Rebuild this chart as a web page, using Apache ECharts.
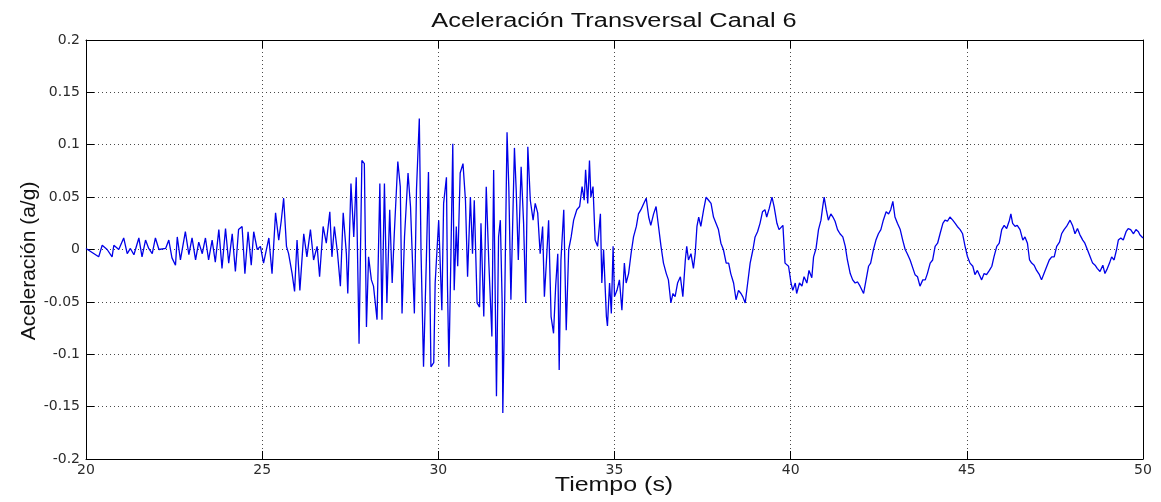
<!DOCTYPE html>
<html>
<head>
<meta charset="utf-8">
<script src="https://cdn.jsdelivr.net/npm/echarts@6/dist/echarts.min.js"></script>
<style>
  html, body { margin: 0; padding: 0; background: #ffffff; }
  #chart { width: 1161px; height: 502px; }
</style>
</head>
<body>
<div id="chart"></div>
<script>
// Transverse acceleration record, channel 6: [time (s), acceleration (a/g)]
// Low-level motion before the main arrival
const preEvent = [
  [20.00, 0.001], [20.03, 0.001], [20.36, -0.007], [20.46, 0.004], [20.60, 0.000], [20.74, -0.007],
  [20.79, 0.004], [20.93, 0.000], [21.07, 0.011], [21.17, -0.004], [21.26, 0.001], [21.36, -0.005],
  [21.50, 0.011], [21.59, -0.007], [21.69, 0.009], [21.78, 0.001], [21.88, -0.004], [21.97, 0.011],
  [22.07, 0.000], [22.26, 0.001], [22.35, 0.009], [22.44, -0.008], [22.54, -0.015], [22.59, 0.012],
  [22.68, -0.010], [22.82, 0.017], [22.92, -0.005], [23.01, 0.011], [23.11, -0.010], [23.20, 0.007],
  [23.30, -0.004], [23.39, 0.011], [23.48, -0.010], [23.58, 0.009], [23.67, -0.012], [23.77, 0.019],
  [23.86, -0.018], [23.96, 0.020], [24.05, -0.013], [24.15, 0.015], [24.24, -0.021], [24.33, 0.019],
  [24.43, 0.022], [24.51, -0.023], [24.60, 0.017], [24.69, -0.015], [24.76, 0.017], [24.86, 0.000]
];

// Strong shaking, 25 s to 30 s
const strongMotionA = [
  [24.95, 0.003], [25.04, -0.013], [25.19, 0.011], [25.28, -0.023], [25.38, 0.035], [25.47, 0.009],
  [25.54, 0.027], [25.61, 0.049], [25.69, 0.003], [25.75, -0.004], [25.85, -0.023], [25.92, -0.040],
  [25.99, 0.009], [26.07, -0.039], [26.18, 0.015], [26.27, -0.007], [26.37, 0.019], [26.46, -0.010],
  [26.56, 0.003], [26.63, -0.026], [26.73, 0.022], [26.82, 0.006], [26.92, 0.036], [26.98, -0.007],
  [27.05, 0.022], [27.14, -0.004], [27.22, -0.035], [27.30, 0.035], [27.39, -0.004], [27.43, -0.042],
  [27.52, 0.063], [27.60, 0.012], [27.67, 0.069], [27.75, -0.090], [27.83, 0.085], [27.90, 0.082],
  [27.96, -0.074], [28.02, -0.007], [28.10, -0.029], [28.16, -0.035], [28.26, -0.067], [28.34, 0.063],
  [28.40, -0.067], [28.47, 0.063], [28.54, -0.051], [28.62, 0.038], [28.69, -0.032], [28.75, 0.015],
  [28.85, 0.084], [28.92, 0.060], [28.97, -0.061], [29.04, 0.012], [29.14, 0.073], [29.21, 0.041],
  [29.32, -0.061], [29.38, 0.057], [29.46, 0.125], [29.51, -0.004], [29.58, -0.112], [29.66, -0.010],
  [29.72, 0.074], [29.79, -0.112], [29.87, -0.108], [29.91, -0.032], [30.01, 0.028]
];

// Strong shaking, 30 s to 34.5 s
const strongMotionB = [
  [30.10, -0.058], [30.15, 0.044], [30.23, 0.069], [30.26, -0.035], [30.30, -0.112], [30.36, 0.000],
  [30.41, 0.101], [30.45, -0.039], [30.51, 0.022], [30.55, -0.016], [30.62, 0.073], [30.70, 0.082],
  [30.77, 0.047], [30.83, -0.026], [30.91, 0.050], [30.97, -0.004], [31.02, 0.047], [31.10, -0.051],
  [31.17, -0.055], [31.21, 0.025], [31.29, -0.064], [31.36, 0.060], [31.43, -0.010], [31.48, -0.010],
  [31.52, -0.083], [31.57, 0.076], [31.65, -0.140], [31.71, 0.012], [31.76, 0.028], [31.81, -0.048],
  [31.83, -0.156], [31.88, -0.058], [31.95, 0.112], [32.00, 0.060], [32.06, -0.048], [32.16, 0.097],
  [32.21, 0.057], [32.27, -0.010], [32.35, 0.079], [32.42, 0.025], [32.48, -0.051], [32.54, 0.098],
  [32.61, 0.047], [32.69, 0.028], [32.75, 0.044], [32.82, 0.035], [32.89, -0.004], [32.96, 0.022],
  [33.01, -0.045], [33.06, -0.016], [33.13, 0.028], [33.20, -0.064], [33.27, -0.080], [33.33, -0.035],
  [33.39, -0.004], [33.43, -0.115], [33.48, -0.010], [33.56, 0.038], [33.63, -0.077], [33.70, 0.000],
  [33.77, 0.012], [33.84, 0.028], [33.93, 0.038], [34.01, 0.041], [34.08, 0.060], [34.14, 0.047],
  [34.18, 0.076], [34.24, 0.044], [34.29, 0.085], [34.33, 0.050], [34.39, 0.060], [34.45, 0.009],
  [34.52, 0.003]
];

// Free oscillation of the structure, 34.6 s to 39.7 s
const codaA = [
  [34.60, 0.034], [34.64, -0.032], [34.69, 0.000], [34.77, -0.064], [34.80, -0.073], [34.86, -0.032],
  [34.91, -0.061], [34.96, 0.003], [35.00, -0.045], [35.07, -0.039], [35.14, -0.029], [35.21, -0.058],
  [35.28, -0.013], [35.33, -0.032], [35.40, -0.023], [35.47, -0.004], [35.54, 0.012], [35.62, 0.022],
  [35.68, 0.034], [35.75, 0.038], [35.83, 0.044], [35.90, 0.049], [35.97, 0.031], [36.03, 0.023],
  [36.11, 0.034], [36.18, 0.041], [36.25, 0.022], [36.32, 0.003], [36.39, -0.013], [36.47, -0.023],
  [36.53, -0.029], [36.60, -0.051], [36.66, -0.042], [36.72, -0.045], [36.79, -0.032], [36.87, -0.026],
  [36.94, -0.045], [37.01, -0.010], [37.05, 0.003], [37.10, -0.010], [37.17, -0.004], [37.24, -0.018],
  [37.29, -0.004], [37.34, 0.022], [37.39, 0.031], [37.45, 0.022], [37.53, 0.038], [37.60, 0.050],
  [37.67, 0.047], [37.74, 0.044], [37.81, 0.031], [37.88, 0.025], [37.95, 0.019], [38.02, 0.006],
  [38.09, 0.000], [38.17, -0.013], [38.24, -0.013], [38.30, -0.023], [38.38, -0.032], [38.45, -0.048],
  [38.52, -0.039], [38.59, -0.042], [38.64, -0.045], [38.71, -0.051], [38.78, -0.032], [38.85, -0.013],
  [38.93, 0.000], [38.99, 0.012], [39.06, 0.017], [39.13, 0.025], [39.20, 0.036], [39.27, 0.038],
  [39.32, 0.031], [39.39, 0.039], [39.47, 0.050], [39.53, 0.041], [39.61, 0.025], [39.67, 0.019]
];

// Free oscillation, 39.7 s to 44.8 s
const codaB = [
  [39.78, 0.023], [39.84, -0.013], [39.94, -0.016], [40.01, -0.032], [40.06, -0.039], [40.13, -0.032],
  [40.17, -0.042], [40.25, -0.032], [40.32, -0.035], [40.38, -0.026], [40.46, -0.032], [40.52, -0.020],
  [40.60, -0.027], [40.65, -0.007], [40.72, 0.001], [40.79, 0.019], [40.86, 0.028], [40.91, 0.041],
  [40.95, 0.050], [41.01, 0.038], [41.07, 0.028], [41.14, 0.034], [41.20, 0.031], [41.26, 0.027],
  [41.33, 0.019], [41.40, 0.015], [41.48, 0.012], [41.55, 0.003], [41.61, -0.010], [41.69, -0.023],
  [41.76, -0.029], [41.83, -0.032], [41.90, -0.031], [41.97, -0.035], [42.07, -0.042], [42.14, -0.029],
  [42.21, -0.016], [42.27, -0.013], [42.35, 0.000], [42.42, 0.009], [42.49, 0.015], [42.56, 0.019],
  [42.63, 0.028], [42.71, 0.036], [42.78, 0.034], [42.84, 0.038], [42.90, 0.046], [42.96, 0.031],
  [43.03, 0.025], [43.11, 0.019], [43.18, 0.009], [43.25, 0.000], [43.31, -0.004], [43.39, -0.010],
  [43.47, -0.018], [43.53, -0.024], [43.60, -0.026], [43.67, -0.035], [43.75, -0.029], [43.82, -0.029],
  [43.88, -0.023], [43.96, -0.013], [44.03, -0.010], [44.10, 0.003], [44.17, 0.006], [44.24, 0.015],
  [44.32, 0.025], [44.38, 0.028], [44.45, 0.027], [44.52, 0.031], [44.60, 0.028], [44.67, 0.025],
  [44.73, 0.022], [44.81, 0.019]
];

// Free oscillation, 44.8 s to 50 s
const codaC = [
  [44.88, 0.015], [44.95, 0.003], [45.02, -0.007], [45.09, -0.013], [45.17, -0.016], [45.23, -0.024],
  [45.30, -0.020], [45.38, -0.026], [45.42, -0.029], [45.49, -0.023], [45.56, -0.024], [45.64, -0.020],
  [45.71, -0.016], [45.77, -0.007], [45.85, 0.003], [45.92, 0.006], [45.99, 0.019], [46.06, 0.023],
  [46.13, 0.020], [46.21, 0.028], [46.25, 0.034], [46.30, 0.025], [46.37, 0.022], [46.43, 0.023],
  [46.51, 0.019], [46.59, 0.009], [46.65, 0.012], [46.72, 0.006], [46.78, -0.010], [46.84, -0.013],
  [46.91, -0.015], [46.98, -0.020], [47.06, -0.024], [47.12, -0.029], [47.19, -0.023], [47.27, -0.016],
  [47.34, -0.010], [47.41, -0.007], [47.48, -0.007], [47.55, 0.003], [47.63, 0.007], [47.69, 0.015],
  [47.76, 0.019], [47.83, 0.022], [47.93, 0.028], [48.00, 0.023], [48.07, 0.015], [48.14, 0.020],
  [48.21, 0.014], [48.29, 0.009], [48.35, 0.006], [48.42, 0.000], [48.50, -0.007], [48.57, -0.013],
  [48.64, -0.015], [48.70, -0.018], [48.78, -0.021], [48.86, -0.015], [48.92, -0.023], [48.99, -0.018],
  [49.05, -0.013], [49.11, -0.007], [49.18, -0.010], [49.25, 0.000], [49.30, 0.009], [49.37, 0.011],
  [49.44, 0.009], [49.52, 0.017], [49.58, 0.020], [49.65, 0.019], [49.73, 0.015], [49.80, 0.019],
  [49.87, 0.017], [49.91, 0.014], [50.00, 0.011]
];

// Axis ranges and tick spacing
const timeRange = [20, 50];
const timeStep = 5;
const accelRange = [-0.2, 0.2];
const accelStep = 0.05;

const titleText = 'Aceleración Transversal Canal 6';
const xName = 'Tiempo (s)';
const yName = 'Aceleración (a/g)';

const record = [].concat(preEvent, strongMotionA, strongMotionB, codaA, codaB, codaC);

const frameLine = { show: true, onZero: false, lineStyle: { color: '#000000', width: 1 } };
const innerTick = { show: true, inside: true, length: 8, lineStyle: { color: '#000000', width: 1 } };
const dottedGrid = { show: true, lineStyle: { color: '#4a4a4a', width: 1, type: [1, 3] } };
const tickFont = { fontFamily: 'DejaVu Sans', fontSize: 14, color: '#2b2b2b' };
const textFont = 'Liberation Sans, Arial, sans-serif';

const chart = echarts.init(document.getElementById('chart'), null, { renderer: 'canvas' });

chart.setOption({
  animation: false,
  backgroundColor: '#ffffff',
  grid: { left: 86, right: 18, top: 40, bottom: 43, containLabel: false },
  xAxis: [
    {
      type: 'value', position: 'bottom',
      min: timeRange[0], max: timeRange[1], interval: timeStep,
      axisLine: frameLine, axisTick: innerTick,
      axisLabel: Object.assign({ margin: 4, showMinLabel: true, showMaxLabel: true }, tickFont),
      splitLine: dottedGrid
    },
    {
      type: 'value', position: 'top',
      min: timeRange[0], max: timeRange[1], interval: timeStep,
      axisLine: frameLine, axisTick: innerTick,
      axisLabel: { show: false }, splitLine: { show: false }
    }
  ],
  yAxis: [
    {
      type: 'value', position: 'left',
      min: accelRange[0], max: accelRange[1], interval: accelStep,
      axisLine: frameLine, axisTick: innerTick,
      axisLabel: Object.assign({ margin: 6, showMinLabel: true, showMaxLabel: true }, tickFont),
      splitLine: dottedGrid
    },
    {
      type: 'value', position: 'right',
      min: accelRange[0], max: accelRange[1], interval: accelStep,
      axisLine: frameLine, axisTick: innerTick,
      axisLabel: { show: false }, splitLine: { show: false }
    }
  ],
  series: [
    {
      type: 'line',
      xAxisIndex: 0, yAxisIndex: 0,
      data: record,
      symbol: 'none',
      smooth: false,
      lineStyle: { color: '#0000e8', width: 1.3 },
      z: 3
    }
  ],
  graphic: [
    {
      type: 'text', x: 614, y: 22, scaleX: 1.3,
      style: { text: titleText, fontFamily: textFont, fontSize: 19.5, fill: '#111111', align: 'center', verticalAlign: 'middle' }
    },
    {
      type: 'text', x: 614, y: 486, scaleX: 1.28,
      style: { text: xName, fontFamily: textFont, fontSize: 19.5, fill: '#111111', align: 'center', verticalAlign: 'middle' }
    },
    {
      type: 'text', x: 29, y: 261, rotation: Math.PI / 2,
      style: { text: yName, fontFamily: textFont, fontSize: 21, fill: '#111111', align: 'center', verticalAlign: 'middle' }
    }
  ]
});
</script>
</body>
</html>
